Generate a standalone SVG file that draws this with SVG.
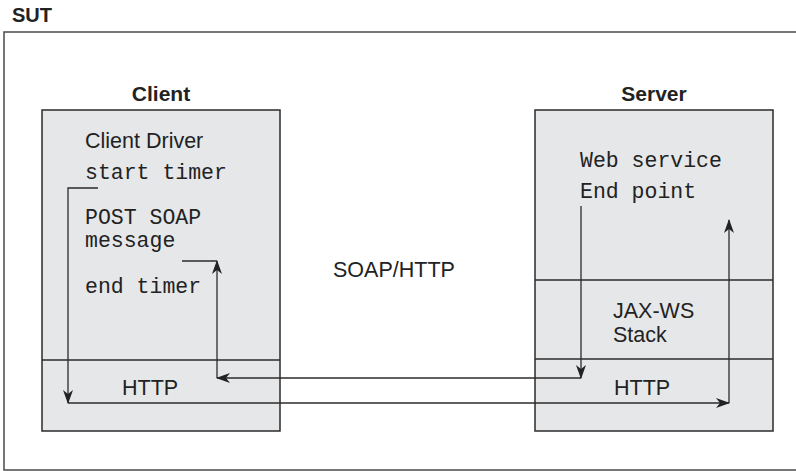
<svg xmlns="http://www.w3.org/2000/svg" width="796" height="471" viewBox="0 0 796 471">
<style>
.box{fill:#e6e7e9;stroke:#2b2b2b;stroke-width:1.5}
.div{stroke:#2b2b2b;stroke-width:1.5;fill:none}
.sans{font-family:"Liberation Sans",Arial,sans-serif;font-size:21.5px;fill:#222}
.bold{font-family:"Liberation Sans",Arial,sans-serif;font-size:21px;font-weight:bold;fill:#222}
.mono{font-family:"Liberation Mono","Courier New",monospace;font-size:21.5px;fill:#222}
.con{stroke:#2b2b2b;stroke-width:1.3;fill:none}
</style>
<defs>
<marker id="ah" viewBox="0 0 14 10" refX="13" refY="5" markerWidth="14" markerHeight="10" markerUnits="userSpaceOnUse" orient="auto">
<path d="M0,0 L14,5 L0,10 L4,5 Z" fill="#222"/>
</marker>
</defs>
<g id="sut">
<text class="bold" x="12" y="22" style="font-size:20px">SUT</text>
<rect x="4" y="32" width="800" height="438" fill="none" stroke="#4a4a4a" stroke-width="1.5"/>
</g>
<g id="client">
<text class="bold" x="161" y="101" text-anchor="middle">Client</text>
<rect class="box" x="42" y="110" width="238" height="321"/>
<line class="div" x1="42" y1="360" x2="280" y2="360"/>
<text class="sans" x="85" y="148">Client Driver</text>
<text class="mono" x="85" y="179">start timer</text>
<text class="mono" x="85" y="224">POST SOAP</text>
<text class="mono" x="85" y="247">message</text>
<text class="mono" x="85" y="293">end timer</text>
<text class="sans" x="122" y="395">HTTP</text>
</g>
<g id="server">
<text class="bold" x="654" y="101" text-anchor="middle">Server</text>
<rect class="box" x="535" y="110" width="238" height="321"/>
<line class="div" x1="535" y1="280" x2="773" y2="280"/>
<line class="div" x1="535" y1="359" x2="773" y2="359"/>
<text class="mono" x="580" y="167">Web service</text>
<text class="mono" x="580" y="198">End point</text>
<text class="sans" x="613" y="318">JAX-WS</text>
<text class="sans" x="613" y="342">Stack</text>
<text class="sans" x="614" y="395">HTTP</text>
</g>
<g id="protocol">
<text class="sans" x="333" y="277">SOAP/HTTP</text>
</g>
<g id="connectors">
<path class="con" d="M98,188 H68 V403" marker-end="url(#ah)"/>
<path class="con" d="M68,403 H729" marker-end="url(#ah)"/>
<path class="con" d="M729,403 V220" marker-end="url(#ah)"/>
<path class="con" d="M581,206 V378" marker-end="url(#ah)"/>
<path class="con" d="M581,378 H217" marker-end="url(#ah)"/>
<path class="con" d="M217,378 V261" marker-end="url(#ah)"/>
<path class="con" d="M217,261 H182"/>
</g>
</svg>
